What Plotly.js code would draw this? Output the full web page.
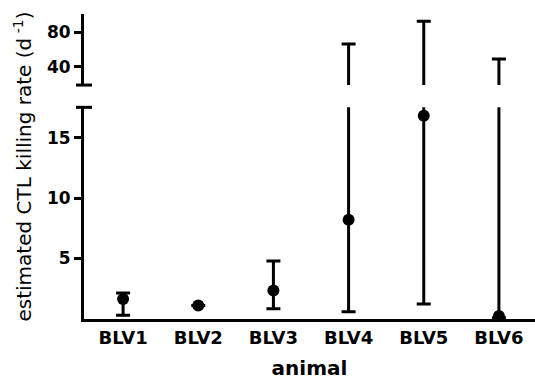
<!DOCTYPE html>
<html>
<head>
<meta charset="utf-8">
<script src="https://cdn.plot.ly/plotly-3.0.1.min.js"></script>
<style>html,body{margin:0;padding:0;background:#fff;}#chart{width:535px;height:381px;}</style>
</head>
<body>
<div id="chart"></div>
<script>
// Data
const animals = ['BLV1', 'BLV2', 'BLV3', 'BLV4', 'BLV5', 'BLV6'];
const killingRate = [1.65, 1.12, 2.35, 8.2, 16.8, 0.25];
const upperBound = [2.15, 1.12, 4.8, 66.5, 92.5, 49];
const lowerBound = [0.3, 1.12, 0.85, 0.6, 1.25, 0.1];
const lowTicks = [5, 10, 15];
const highTicks = [40, 80];

const errPlus = upperBound.map((u, i) => u - killingRate[i]);
const errMinus = killingRate.map((v, i) => v - lowerBound[i]);

const FONT = 'DejaVu Sans, Liberation Sans, Arial, sans-serif';

function makeTrace(yaxis, showMarkers) {
  return {
    x: animals,
    y: killingRate,
    yaxis: yaxis,
    type: 'scatter',
    mode: 'markers',
    marker: showMarkers ? {color: '#000', size: 12} : {color: 'rgba(0,0,0,0)', size: 1},
    error_y: {type: 'data', symmetric: false, array: errPlus, arrayminus: errMinus,
              color: '#000', thickness: 3, width: 7},
    showlegend: false,
    hoverinfo: 'none'
  };
}

const data = [makeTrace('y', true), makeTrace('y2', false)];

const capShape = (yref, yv) => ({
  type: 'line', xref: 'paper', yref: yref, xsizemode: 'pixel', xanchor: 0,
  x0: -8, x1: 8, y0: yv, y1: yv, line: {color: '#000', width: 3}
});

const layout = {
  width: 535, height: 381,
  margin: {l: 84, r: 0, t: 14, b: 62},
  paper_bgcolor: '#fff', plot_bgcolor: '#fff',
  font: {family: FONT, color: '#000'},
  xaxis: {
    type: 'category', range: [-0.52, 5.48], anchor: 'y',
    showline: true, linewidth: 3, linecolor: '#000', ticks: '', showgrid: false, zeroline: false,
    tickfont: {family: FONT, size: 18, color: '#000', weight: 'bold'},
    title: {text: 'animal', font: {family: FONT, size: 20, color: '#000', weight: 'bold'}, standoff: 15}
  },
  yaxis: {
    domain: [0, 0.694], range: [0, 17.5], anchor: 'x',
    showline: true, linewidth: 3, linecolor: '#000', showgrid: false, zeroline: false,
    ticks: 'outside', ticklen: 7, tickwidth: 3, tickcolor: '#000',
    tickvals: lowTicks, ticktext: lowTicks.map(String),
    tickfont: {family: FONT, size: 17, color: '#000', weight: 'bold'}
  },
  yaxis2: {
    domain: [0.767, 1], range: [19, 101], anchor: 'x',
    showline: true, linewidth: 3, linecolor: '#000', showgrid: false, zeroline: false,
    ticks: 'outside', ticklen: 7, tickwidth: 3, tickcolor: '#000',
    tickvals: highTicks, ticktext: highTicks.map(String),
    tickfont: {family: FONT, size: 17, color: '#000', weight: 'bold'}
  },
  shapes: [capShape('y domain', 1), capShape('y2 domain', 0)],
  annotations: [{
    text: 'estimated CTL killing rate (d<sup> -1</sup>)',
    xref: 'paper', yref: 'paper', x: 0, y: 0.5, xshift: -62, textangle: -90,
    showarrow: false, xanchor: 'center', yanchor: 'middle',
    font: {family: FONT, size: 20, color: '#000'}
  }]
};

Plotly.newPlot('chart', data, layout, {displayModeBar: false, staticPlot: true});
</script>
</body>
</html>
